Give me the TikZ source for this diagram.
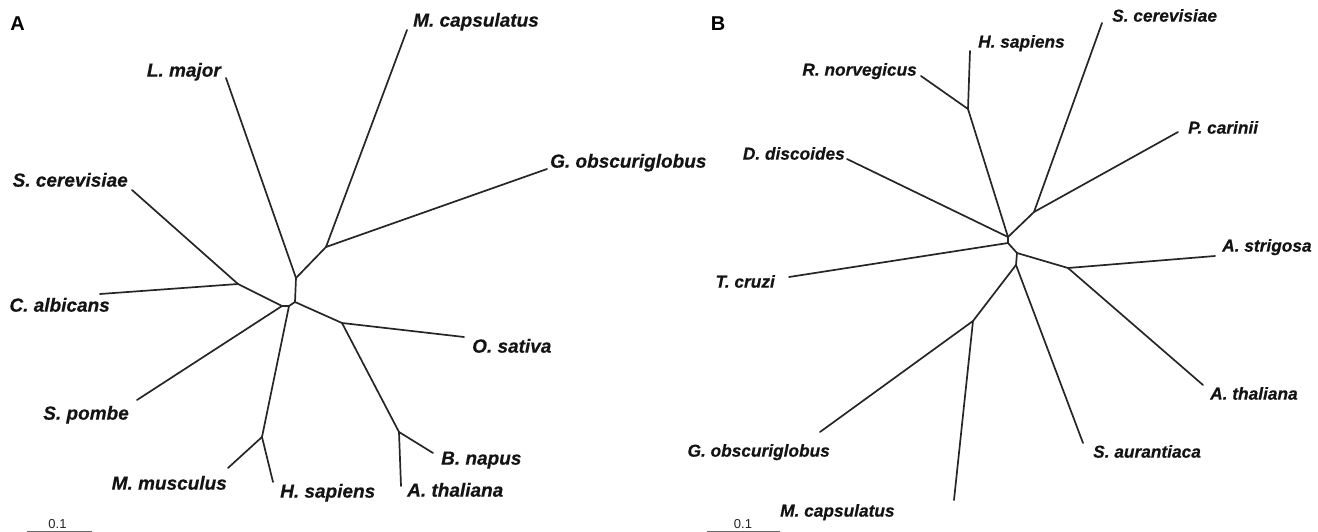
\documentclass[tikz,border=0pt]{standalone}
\usepackage{fontspec}
\setmainfont{Liberation Sans}
\newfontfamily\lblfont{Liberation Sans}[BoldItalicFeatures={FakeBold=0.4}]
\begin{document}
\begin{tikzpicture}[x=1pt,y=-1pt]
\tikzset{
  branch/.style={line width=1.7pt, draw=black!85, line cap=round},
  spA/.style={font=\lblfont\bfseries\itshape\fontsize{19}{22}\selectfont, inner sep=0pt, text=black!92},
  spB/.style={font=\lblfont\bfseries\itshape\fontsize{17.3}{20}\selectfont, inner sep=0pt, text=black!92},
  panel/.style={font=\bfseries\fontsize{20}{22}\selectfont, inner sep=0pt},
  scalebar/.style={line width=0.9pt, draw=black!60},
  scaletext/.style={font=\fontsize{13}{15}\selectfont, inner sep=0pt, text=black!85}
}
\useasboundingbox (0,0) rectangle (1318,532);
\fill[white] (0,0) rectangle (1318,532);

% ---------------- Tree A ----------------
\node[panel] (pA) at (17.5,24) {A};
\coordinate (a1) at (296,278);
\coordinate (a2) at (326,247);
\coordinate (a3) at (295,302);
\coordinate (a4) at (342,323);
\coordinate (a5) at (289,306);
\coordinate (a6) at (399,432);
\coordinate (a7) at (282,306);
\coordinate (a8) at (238,284);
\coordinate (a9) at (262,437);
\coordinate (aLm) at (226,78);
\coordinate (aMc) at (407,30);
\coordinate (aGo) at (547,169);
\coordinate (aOs) at (464,337);
\coordinate (aBn) at (433,453);
\coordinate (aAt) at (401,486);
\coordinate (aSc) at (132,190);
\coordinate (aCa) at (100,294);
\coordinate (aSp) at (137,400);
\coordinate (aMm) at (228,468);
\coordinate (aHs) at (273,482);

\draw[branch] (a1) -- (aLm);
\draw[branch] (a1) -- (a2);
\draw[branch] (a2) -- (aMc);
\draw[branch] (a2) -- (aGo);
\draw[branch] (a1) -- (a3);
\draw[branch] (a3) -- (a4);
\draw[branch] (a4) -- (aOs);
\draw[branch] (a4) -- (a6);
\draw[branch] (a6) -- (aBn);
\draw[branch] (a6) -- (aAt);
\draw[branch] (a3) -- (a5);
\draw[branch] (a5) -- (a7);
\draw[branch] (a7) -- (a8);
\draw[branch] (a8) -- (aSc);
\draw[branch] (a8) -- (aCa);
\draw[branch] (a7) -- (aSp);
\draw[branch] (a5) -- (a9);
\draw[branch] (a9) -- (aMm);
\draw[branch] (a9) -- (aHs);

\node[spA, anchor=mid east] (lLm) at (221,74) {L. major};
\node[spA, anchor=mid west] (lMc) at (413,24) {M. capsulatus};
\node[spA, anchor=mid west] (lGo) at (550,165) {G. obscuriglobus};
\node[spA, anchor=mid east] (lSc) at (128,184) {S. cerevisiae};
\node[spA, anchor=mid east] (lCa) at (110,309) {C. albicans};
\node[spA, anchor=mid west] (lOs) at (472,350) {O. sativa};
\node[spA, anchor=mid east] (lSp) at (129,417) {S. pombe};
\node[spA, anchor=mid west] (lBn) at (441,462) {B. napus};
\node[spA, anchor=mid east] (lMm) at (227,487) {M. musculus};
\node[spA, anchor=mid west] (lHs) at (280,495) {H. sapiens};
\node[spA, anchor=mid west] (lAt) at (407,494) {A. thaliana};

\coordinate (sA1) at (27,531);
\coordinate (sA2) at (92,531);
\draw[scalebar] (sA1) -- (sA2);
\node[scaletext] (tA) at (57.5,524) {0.1};

% ---------------- Tree B ----------------
\node[panel] (pB) at (718,24) {B};
\coordinate (b1) at (1008,237);
\coordinate (b2) at (968,109);
\coordinate (b3) at (1034,212);
\coordinate (b4) at (1008,243);
\coordinate (b5) at (1017,253);
\coordinate (b6) at (1068,268);
\coordinate (b7) at (1016,265);
\coordinate (b8) at (973,321);
\coordinate (bDd) at (847,159);
\coordinate (bHs) at (970,51);
\coordinate (bRn) at (921,76);
\coordinate (bSc) at (1102,23);
\coordinate (bPc) at (1178,132);
\coordinate (bTc) at (789,277);
\coordinate (bAs) at (1215,256);
\coordinate (bAt) at (1203,385);
\coordinate (bSa) at (1083,443);
\coordinate (bGo) at (820,432);
\coordinate (bMc) at (954,500);

\draw[branch] (b1) -- (bDd);
\draw[branch] (b1) -- (b2);
\draw[branch] (b2) -- (bHs);
\draw[branch] (b2) -- (bRn);
\draw[branch] (b1) -- (b3);
\draw[branch] (b3) -- (bSc);
\draw[branch] (b3) -- (bPc);
\draw[branch] (b1) -- (b4);
\draw[branch] (b4) -- (bTc);
\draw[branch] (b4) -- (b5);
\draw[branch] (b5) -- (b6);
\draw[branch] (b6) -- (bAs);
\draw[branch] (b6) -- (bAt);
\draw[branch] (b5) -- (b7);
\draw[branch] (b7) -- (bSa);
\draw[branch] (b7) -- (b8);
\draw[branch] (b8) -- (bGo);
\draw[branch] (b8) -- (bMc);

\node[spB, anchor=mid west] (mHs) at (978,45) {H. sapiens};
\node[spB, anchor=mid west] (mSc) at (1112,19) {S. cerevisiae};
\node[spB, anchor=mid east] (mRn) at (917,73) {R. norvegicus};
\node[spB, anchor=mid west] (mPc) at (1188,131) {P. carinii};
\node[spB, anchor=mid east] (mDd) at (845,157) {D. discoides};
\node[spB, anchor=mid west] (mAs) at (1222,249) {A. strigosa};
\node[spB, anchor=mid east] (mTc) at (775,285) {T. cruzi};
\node[spB, anchor=mid west] (mAt) at (1210,397) {A. thaliana};
\node[spB, anchor=mid east] (mGo) at (830,454) {G. obscuriglobus};
\node[spB, anchor=mid west] (mSa) at (1093,455) {S. aurantiaca};
\node[spB, anchor=mid west] (mMc) at (780,514) {M. capsulatus};

\coordinate (sB1) at (707,531);
\coordinate (sB2) at (780,531);
\draw[scalebar] (sB1) -- (sB2);
\node[scaletext] (tB) at (743,524) {0.1};
\end{tikzpicture}
\end{document}
